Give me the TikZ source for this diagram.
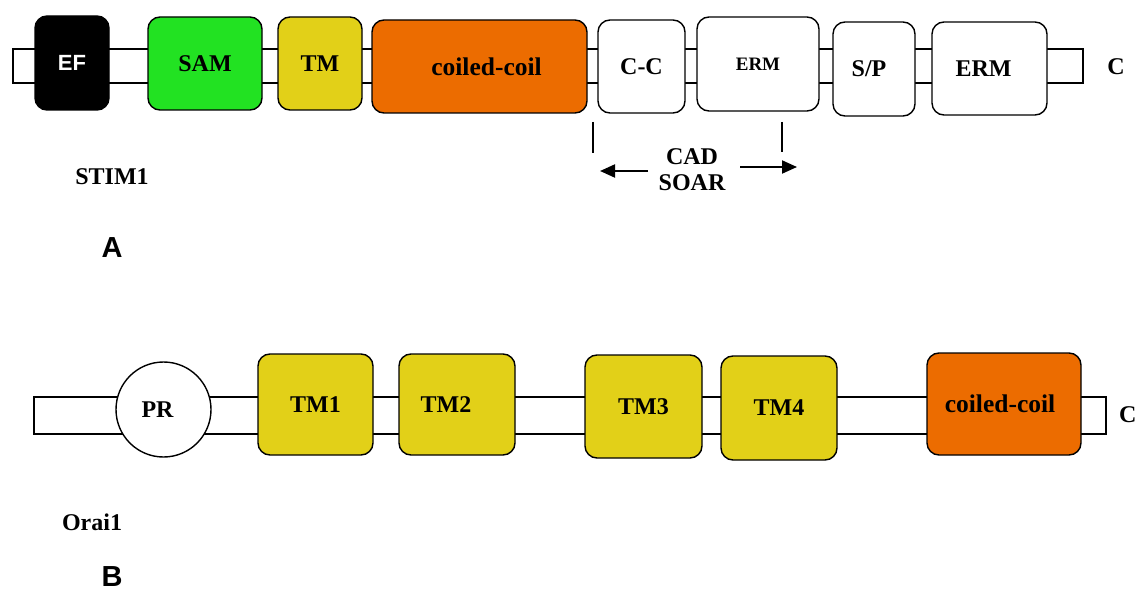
\documentclass[tikz,border=0pt]{standalone}
\usepackage{fontspec}
\setmainfont{Liberation Serif}
\newfontfamily\sansfam{Liberation Sans}
\usetikzlibrary{arrows.meta}
\definecolor{domgreen}{RGB}{34,226,34}
\definecolor{domyellow}{RGB}{226,208,24}
\definecolor{domorange}{RGB}{236,108,0}
\tikzset{
  lab/.style={font=\fontsize{24}{28}\selectfont\bfseries},
  biglab/.style={font=\fontsize{25.5}{29}\selectfont\bfseries},
  smalllab/.style={font=\fontsize{19}{22}\selectfont\bfseries},
  dom/.style={draw=black, line width=1.4pt, rounded corners=12pt, inner sep=0pt, lab},
  bar/.style={draw=black, line width=1.2pt, fill=white, inner sep=0pt},
  pan/.style={font=\sansfam\fontsize{29}{32}\selectfont\bfseries, inner sep=0pt},
  arr/.style={line width=2pt, -{Triangle[length=15pt,width=13pt]}},
  tick/.style={line width=1.3pt}
}
\begin{document}
\begin{tikzpicture}[x=1pt,y=-1pt]
\useasboundingbox (0,0) rectangle (1135,591);
% ---------- STIM1 ----------
\node[bar, minimum width=1070, minimum height=34] (barA) at (548,66) {};
\node[dom, fill=black, text=white, font=\sansfam\fontsize{22}{25}\selectfont\bfseries, minimum width=74, minimum height=94] (ef) at (72,63) {EF};
\node[dom, fill=domgreen, minimum width=114, minimum height=93] (sam) at (205,63.5) {SAM};
\node[dom, fill=domyellow, minimum width=84, minimum height=93] (tm) at (320,63.5) {TM};
\node[dom, fill=domorange, biglab, minimum width=215, minimum height=93] (cc) at (479.5,66.5) {\hspace*{14pt}coiled-coil};
\node[dom, fill=white, minimum width=87, minimum height=93] (ccc) at (641.5,66.5) {C-C};
\node[dom, fill=white, smalllab, minimum width=122, minimum height=94] (erm1) at (758,64) {ERM};
\node[dom, fill=white, minimum width=82, minimum height=94] (sp) at (874,69) {S/P\hspace*{10pt}};
\node[dom, fill=white, minimum width=115, minimum height=93] (erm2) at (989.5,68.5) {ERM\hspace*{12pt}};
\node[lab] (cA) at (1116,67) {C};
% CAD / SOAR
\coordinate (t1a) at (593,122); \coordinate (t1b) at (593,153);
\coordinate (t2a) at (782,122); \coordinate (t2b) at (782,152);
\draw[tick] (t1a) -- (t1b);
\draw[tick] (t2a) -- (t2b);
\node[lab] (cad) at (692,157) {CAD};
\node[lab] (soar) at (692,183) {SOAR};
\coordinate (la) at (648,171); \coordinate (lb) at (600,171);
\coordinate (ra) at (740,167); \coordinate (rb) at (797,167);
\draw[arr] (la) -- (lb);
\draw[arr] (ra) -- (rb);
\node[lab] (stim) at (112,177) {STIM1};
\node[pan] (pA) at (112,248) {A};
% ---------- Orai1 ----------
\node[bar, minimum width=1072, minimum height=37] (barB) at (570,415.5) {};
\node[circle, draw=black, line width=1.4pt, fill=white, inner sep=0pt, minimum size=95, lab] (pr) at (163.5,409.5) {PR\hspace*{12pt}};
\node[dom, fill=domyellow, minimum width=115, minimum height=101] (tm1) at (315.5,404.5) {TM1};
\node[dom, fill=domyellow, minimum width=116, minimum height=101] (tm2) at (457,404.5) {TM2\hspace*{22pt}};
\node[dom, fill=domyellow, minimum width=117, minimum height=103] (tm3) at (643.5,406.5) {TM3};
\node[dom, fill=domyellow, minimum width=116, minimum height=104] (tm4) at (779,408) {TM4};
\node[dom, fill=domorange, biglab, minimum width=154, minimum height=102] (cc2) at (1004,404) {coiled-coil\hspace*{8pt}};
\node[lab, anchor=west, inner sep=0pt] (cB) at (1119,415) {C};
\node[lab] (orai) at (92,522) {Orai1};
\node[pan] (pB) at (112,577) {B};
\end{tikzpicture}
\end{document}
